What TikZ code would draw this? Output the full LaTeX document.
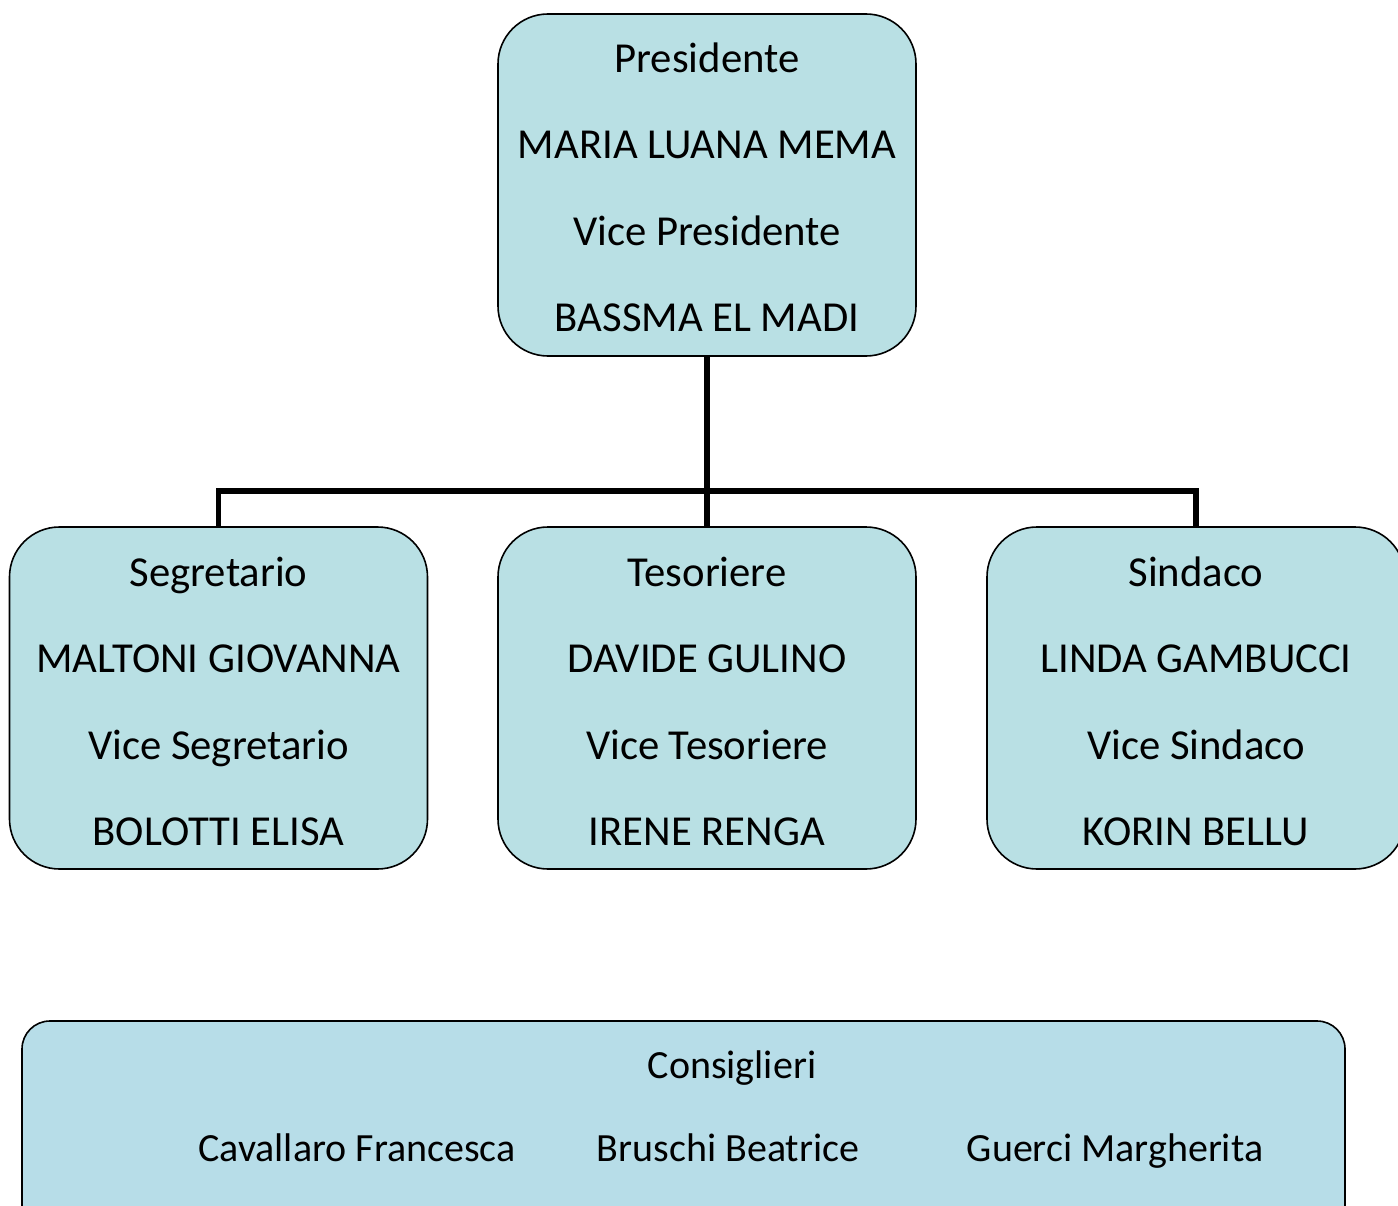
\documentclass[tikz,border=0pt]{standalone}
\usepackage{fontspec}
\setmainfont{Carlito}
\definecolor{boxfill}{RGB}{185,224,228}
\definecolor{consfill}{RGB}{183,221,232}
\tikzset{
  rolebox/.style={draw=black, line width=1.6pt, fill=boxfill, rounded corners=50pt, minimum width=418pt, minimum height=342pt, inner sep=0pt},
  consbox/.style={draw=black, line width=1.6pt, fill=consfill, rounded corners=28pt, inner sep=0pt, minimum width=1323pt, minimum height=219pt},
  lbl/.style={anchor=base, inner sep=0pt, font=\fontsize{42.7}{50}\selectfont},
  clbl/.style={anchor=base, inner sep=0pt, font=\fontsize{40}{48}\selectfont},
  conn/.style={line width=5.5pt, draw=black}
}
\begin{document}
\begin{tikzpicture}[x=1pt,y=1pt]
\useasboundingbox (0,0) rectangle (1398,-1206);
\begin{scope}
\clip (0,0) rectangle (1398,-1206);
\coordinate (jn) at (707,-491);
\node[rolebox] (pres) at (707,-185) {};
\node[rolebox] (seg) at (218.5,-698) {};
\node[rolebox] (tes) at (707,-698) {};
\node[rolebox] (sin) at (1196,-698) {};
\node[consbox] (cons) at (683.5,-1130.5) {};
\draw[conn] (pres.south) -- (jn);
\draw[conn] (seg.north) |- (jn) -| (sin.north);
\draw[conn] (jn) -- (tes.north);
\node[lbl] (p1) at (707,-73) {Presidente};
\node[lbl] (p2) at (707,-159) {MARIA LUANA MEMA};
\node[lbl] (p3) at (707,-246) {Vice Presidente};
\node[lbl] (p4) at (707,-332) {BASSMA EL MADI};
\node[lbl] (s1) at (218.5,-586) {Segretario};
\node[lbl] (s2) at (218.5,-672) {MALTONI GIOVANNA};
\node[lbl] (s3) at (218.5,-759) {Vice Segretario};
\node[lbl] (s4) at (218.5,-845) {BOLOTTI ELISA};
\node[lbl] (t1) at (707,-586) {Tesoriere};
\node[lbl] (t2) at (707,-672) {DAVIDE GULINO};
\node[lbl] (t3) at (707,-759) {Vice Tesoriere};
\node[lbl] (t4) at (707,-845) {IRENE RENGA};
\node[lbl] (n1) at (1196,-586) {Sindaco};
\node[lbl] (n2) at (1196,-672) {LINDA GAMBUCCI};
\node[lbl] (n3) at (1196,-759) {Vice Sindaco};
\node[lbl] (n4) at (1196,-845) {KORIN BELLU};
\node[clbl] (c0) at (732,-1078) {Consiglieri};
\node[clbl] (c1) at (357,-1161) {Cavallaro Francesca};
\node[clbl] (c2) at (728,-1161) {Bruschi Beatrice};
\node[clbl] (c3) at (1115,-1161) {Guerci Margherita};
\end{scope}
\end{tikzpicture}
\end{document}
